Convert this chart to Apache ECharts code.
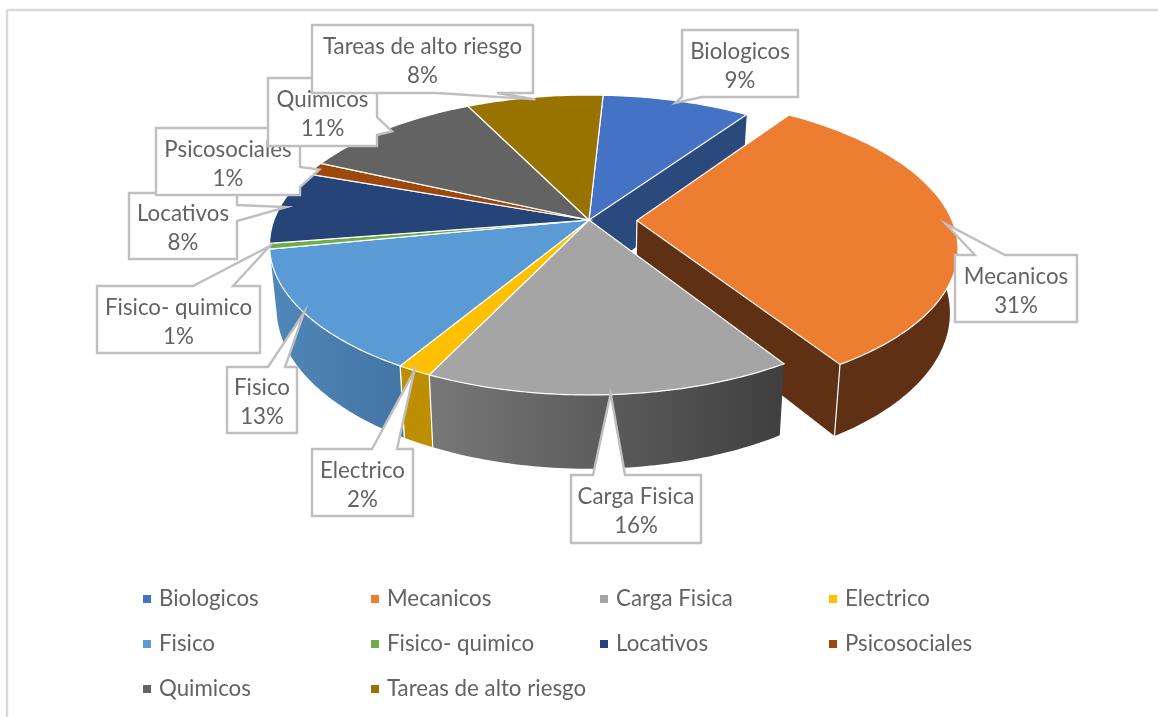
<!DOCTYPE html>
<html><head><meta charset="utf-8">
<style>html,body{margin:0;padding:0;background:#fff}#c{width:1158px;height:717px}</style>
<script src="https://cdn.jsdelivr.net/npm/echarts@6/dist/echarts.min.js"></script>
</head><body><div id="c"></div>
<script>
// ---- data ----
const categories = ['Biologicos','Mecanicos','Carga Fisica','Electrico','Fisico','Fisico- quimico','Locativos','Psicosociales','Quimicos','Tareas de alto riesgo'];
const values = [8.8,31.4,16,1.5,13.3,0.6,7.9,1.4,10.9,8.1];
const explodedIndex = 1;
// ---- styles ----
const topColors = ['#4472c4','#ed7d31','#a5a5a5','#ffc000','#5b9bd5','#70ad47','#264478','#9e480e','#636363','#997300'];
const wallStops = [null,['#5f3013','#5f3013'],['#787878','#3f3f3f'],['#bd8e00','#bd8e00'],['#5087b8','#4374a5'],null,null,null,null,null];
const bioCutWall = '#2a4a7e', cutWallColor = '#5f3013';
const textColor = '#636363', fontFamily = 'Lato', fontSize = 22.3;
// ---- layout ----
const cx = 589, cy = 220, Rx = 315, A = 145.8, K = 1/6, H = 61.5, bottomScale = 0.978;
const startDeg = 3, explode = 0.152;
const tipFactors = [0.98,0.975,0.995,1.0,1.0,1.0,0.98,0.98,0.97,0.98];
// callout boxes: x0,y0,x1,y1, side the pointer leaves from, base start, base end
const calloutBoxes = [
  [682,30,798,97,'b',682,702],
  [955,255,1077,322,'t',975,1005],
  [571,475,701,543,'t',593,625],
  [312,449,413,516,'t',372,397],
  [227,367,297,433,'t',268,285],
  [97,286,260,353,'t',193,233],
  [129,193,237,259,'r',205,221],
  [156,128,300,195,'r',167,187],
  [268,78,377,146,'r',117,135],
  [312,25,533,93,'b',437,497]
];
const legendColumns = [[0,4,8,138],[1,5,9,366],[2,6,595],[3,7,824]];

// ---- geometry from the values ----
const total = values.reduce((a,b)=>a+b,0);
const slices = [];
values.reduce((acc,v,i)=>{const end=acc+v/total*360;slices.push({start:acc,end,mid:(acc+end)/2,ex:i===explodedIndex?explode:0});return end;},startDeg);
const rad = d=>d*Math.PI/180;
function project(sl,deg,r,bottom){
  const mid=rad(sl.mid),a=rad(deg);
  const u=sl.ex*Math.sin(mid)+r*Math.sin(a), v=-sl.ex*Math.cos(mid)-r*Math.cos(a);
  const s=1/(1-K*v);
  return bottom?[cx+bottomScale*Rx*u*s, cy+A*v*s+H*s]:[cx+Rx*u*s, cy+A*v*s];
}
function arc(sl,from,to,bottom){
  const pts=[],n=Math.max(2,Math.ceil(Math.abs(to-from)));
  for(let i=0;i<=n;i++)pts.push(project(sl,from+(to-from)*i/n,1,bottom));
  return pts;
}
function poly(points,fill,stroke,lw){
  return {type:'polygon',shape:{points},style:{fill,stroke:stroke||null,lineWidth:lw||0,lineJoin:'miter'},silent:true};
}
function edge(a,b){return {type:'line',shape:{x1:a[0],y1:a[1],x2:b[0],y2:b[1]},style:{stroke:'#fff',lineWidth:1.2},silent:true};}
function renderSlice(i){
  const sl=slices[i],kids=[];
  const tip=project(sl,sl.mid,0,false),tipB=project(sl,sl.mid,0,true);
  if(i===0){ // the face left open by the exploded neighbour
    const p=project(sl,sl.end,1,false),q=project(sl,sl.end,1,true);
    kids.push(poly([tip,p,q,tipB],bioCutWall));
  }
  if(i===explodedIndex){
    const p=project(sl,sl.end,1,false),q=project(sl,sl.end,1,true);
    kids.push(poly([tip,p,q,tipB],cutWallColor));
    kids.push(edge(tip,tipB));
  }
  if(wallStops[i]){
    const t=arc(sl,sl.start,sl.end,false),b=arc(sl,sl.start,sl.end,true).reverse();
    const st=wallStops[i];
    kids.push(poly(t.concat(b),{type:'linear',x:0,y:0,x2:1,y2:0,colorStops:[{offset:0,color:st[0]},{offset:1,color:st[1]}]}));
    if(i!==2){kids.push(edge(project(sl,sl.start,1,false),project(sl,sl.start,1,true)));
    if(i!==4)kids.push(edge(project(sl,sl.end,1,false),project(sl,sl.end,1,true)));}
  }
  kids.push(poly([tip].concat(arc(sl,sl.start,sl.end,false)),topColors[i],'#fff',1.2));
  return {type:'group',children:kids};
}
function renderCallout(i){
  const [x0,y0,x1,y1,side,b0,b1]=calloutBoxes[i],sl=slices[i];
  const tip=project(sl,sl.mid,tipFactors[i],false);
  let pts;
  if(side==='t')pts=[[x0,y0],[b0,y0],tip,[b1,y0],[x1,y0],[x1,y1],[x0,y1]];
  else if(side==='b')pts=[[x0,y0],[x1,y0],[x1,y1],[b1,y1],tip,[b0,y1],[x0,y1]];
  else pts=[[x0,y0],[x1,y0],[x1,b0],tip,[x1,b1],[x1,y1],[x0,y1]];
  return {type:'group',children:[
    poly(pts,'#fff','#bfbfbf',2.4),
    {type:'text',silent:true,style:{text:categories[i]+'\n'+Math.round(values[i])+'%',x:(x0+x1)/2,y:(y0+y1)/2+2.5,align:'center',verticalAlign:'middle',
      fontFamily,fontSize,lineHeight:29,fill:textColor}}
  ]};
}
const series = categories.map((name,i)=>({
  type:'custom',name,coordinateSystem:'none',silent:true,z:2+i*0.01,
  itemStyle:{color:topColors[i]},
  data:[{name,value:values[i]}],
  renderItem:()=>renderSlice(i)
}));
series.push({type:'custom',name:'callouts',coordinateSystem:'none',silent:true,z:5,
  data:categories.map((c,i)=>({name:c,value:i})),
  renderItem:(p)=>renderCallout(p.dataIndex)});
const legends = legendColumns.map(col=>{
  const left=col[col.length-1], idx=col.slice(0,-1);
  return {orient:'vertical',left,top:582,itemWidth:8,itemHeight:8,itemGap:21,icon:'rect',selectedMode:false,
    data:idx.map(i=>categories[i]),
    textStyle:{color:textColor,fontFamily,fontSize,lineHeight:24,padding:[0,0,0,3]}};
});
const chart = echarts.init(document.getElementById('c'),null,{renderer:'canvas'});
chart.setOption({
  animation:false,backgroundColor:'#fff',legend:legends,series,tooltip:{show:false},
  graphic:[
    {type:'line',shape:{x1:7,y1:10,x2:1158,y2:10},style:{stroke:'#d9d9d9',lineWidth:2.5},silent:true},
    {type:'line',shape:{x1:7,y1:10,x2:7,y2:717},style:{stroke:'#d9d9d9',lineWidth:2.5},silent:true}
  ]
});
</script></body></html>
